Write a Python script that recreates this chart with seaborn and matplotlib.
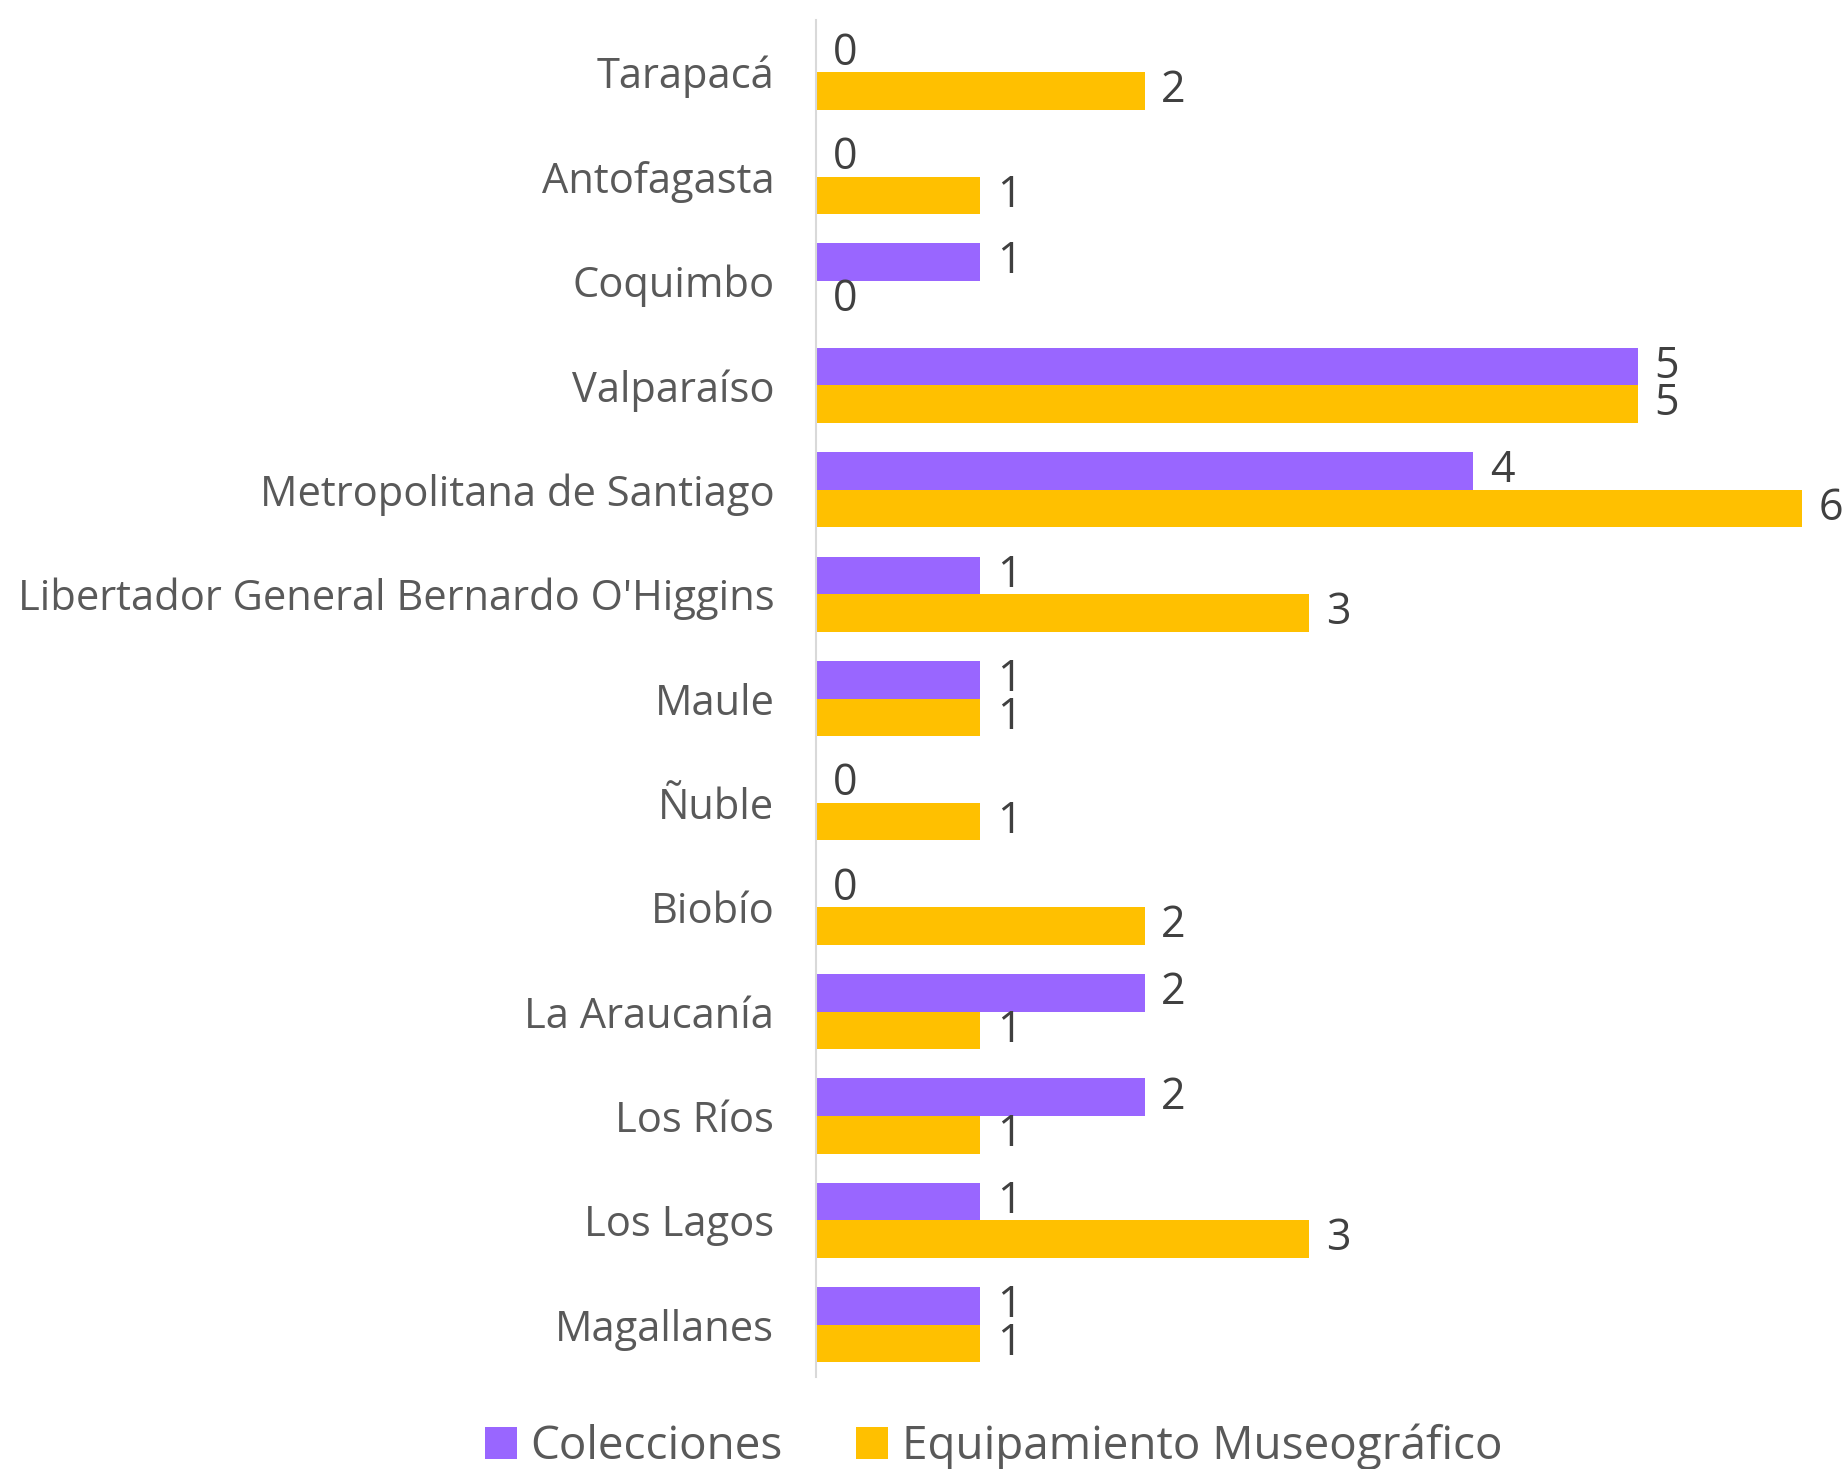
import pandas as pd
import seaborn as sns
import matplotlib.pyplot as plt

regiones = ["Tarapacá", "Antofagasta", "Coquimbo", "Valparaíso", "Metropolitana de Santiago",
            "Libertador General Bernardo O'Higgins", "Maule", "Ñuble", "Biobío",
            "La Araucanía", "Los Ríos", "Los Lagos", "Magallanes"]
colecciones = [0, 0, 1, 5, 4, 1, 1, 0, 0, 2, 2, 1, 1]
equipamiento = [2, 1, 0, 5, 6, 3, 1, 1, 2, 1, 1, 3, 1]
series = ["Colecciones", "Equipamiento Museográfico"]

df = pd.DataFrame({"Región": regiones * 2,
                   "Valor": colecciones + equipamiento,
                   "Serie": [series[0]] * len(regiones) + [series[1]] * len(regiones)})

sns.set_style("white")
plt.rcParams['font.family'] = ['Open Sans', 'DejaVu Sans']

fig = plt.figure(figsize=(18.47, 14.69), dpi=100)
ax = fig.add_axes([0.4418, 0.0626, 0.5338, 0.9238])

sns.barplot(data=df, y="Región", x="Valor", hue="Serie", orient="h",
            palette=["#9966FF", "#FFC000"], saturation=1, width=0.72, gap=0,
            linewidth=0, ax=ax, errorbar=None)

for cont in ax.containers:
    ax.bar_label(cont, padding=12, fontsize=31, color="#404040")

ax.set_xlim(0, 6)
ax.set_ylim(12.5, -0.5)
ax.set_xlabel("")
ax.set_ylabel("")
ax.set_xticks([])
ax.tick_params(axis="y", length=0, pad=30, labelsize=30, labelcolor="#595959")
for side in ["top", "right", "bottom"]:
    ax.spines[side].set_visible(False)
ax.spines["left"].set_color("#D9D9D9")
ax.spines["left"].set_linewidth(1.5)

handles, labels = ax.get_legend_handles_labels()
ax.get_legend().remove()
fig.legend(handles, labels, loc="center", bbox_to_anchor=(0.538, 0.015), ncol=2,
           frameon=False, fontsize=33, labelcolor="#595959", handlelength=0.7,
           handleheight=0.7, handletextpad=0.3, columnspacing=1.6)

fig.savefig("out.png", dpi=100)
